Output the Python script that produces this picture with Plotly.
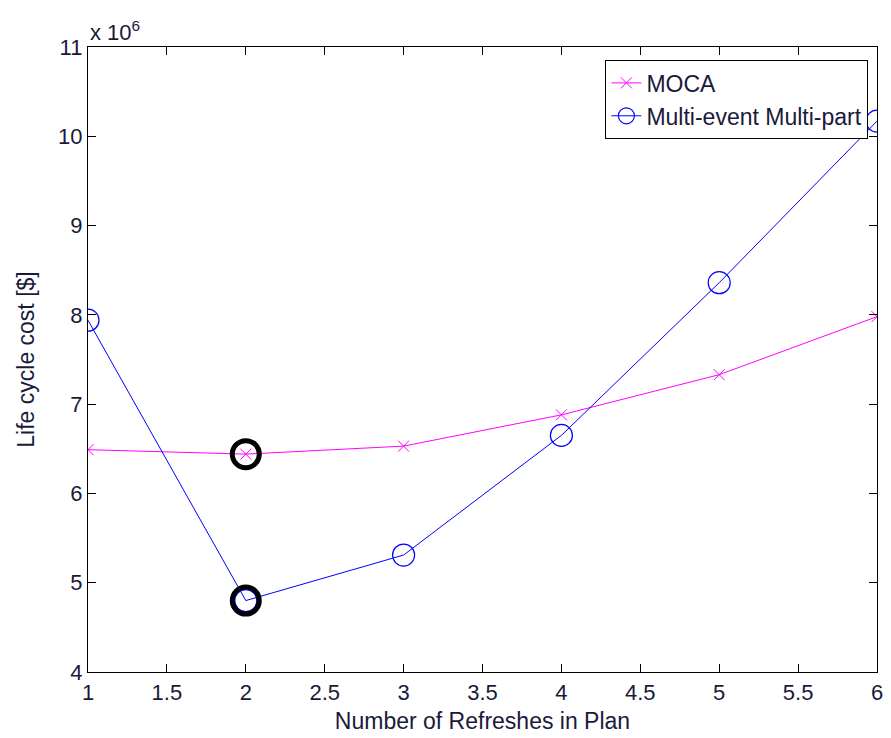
import plotly.graph_objects as go

# Life cycle cost (in units of 1e6 $) versus number of refreshes
refreshes = [1, 2, 3, 4, 5, 6]
moca_cost = [6.49, 6.44, 6.53, 6.88, 7.33, 7.98]
multi_cost = [7.94, 4.80, 5.31, 6.65, 8.36, 10.17]

# optimal plans (minimum cost) highlighted
best_x = [2, 2]
best_y = [6.44, 4.80]

x_ticks = [1, 1.5, 2, 2.5, 3, 3.5, 4, 4.5, 5, 5.5, 6]
x_tick_text = ["1", "1.5", "2", "2.5", "3", "3.5", "4", "4.5", "5", "5.5", "6"]
y_ticks = [4, 5, 6, 7, 8, 9, 10, 11]
y_tick_text = ["4", "5", "6", "7", "8", "9", "10", "11"]

font = "Arial, Liberation Sans, sans-serif"
text_color = "#1a1a3a"

fig = go.Figure()
fig.add_trace(go.Scatter(
    x=refreshes, y=moca_cost, name="MOCA", mode="lines+markers",
    line=dict(color="#ff00ff", width=1),
    marker=dict(symbol="x-thin-open", size=11, color="#ff00ff", line=dict(color="#ff00ff", width=1)),
))
fig.add_trace(go.Scatter(
    x=refreshes, y=multi_cost, name="Multi-event Multi-part", mode="lines+markers",
    line=dict(color="#0000ff", width=1),
    marker=dict(symbol="circle-open", size=22, color="#0000ff", line=dict(color="#0000ff", width=1.2)),
))
fig.add_trace(go.Scatter(
    x=best_x, y=best_y, mode="markers", showlegend=False,
    marker=dict(symbol="circle-open", size=27, color="black", line=dict(color="black", width=5)),
))

axis_common = dict(
    showgrid=False, zeroline=False, showline=True, linecolor="black", linewidth=1.3,
    mirror="allticks", ticks="inside", ticklen=8, tickwidth=1.3, tickcolor="black",
    tickfont=dict(family=font, size=22, color=text_color),
)

fig.update_xaxes(range=[1, 6], tickmode="array", tickvals=x_ticks, ticktext=x_tick_text,
                 title=dict(text="Number of Refreshes in Plan", font=dict(family=font, size=23, color=text_color), standoff=9),
                 **axis_common)
fig.update_yaxes(range=[4, 11], tickmode="array", tickvals=y_ticks, ticktext=y_tick_text,
                 title=dict(text="Life cycle cost [$]", font=dict(family=font, size=23, color=text_color), standoff=16),
                 **axis_common)

fig.add_annotation(
    xref="paper", yref="paper", x=0, y=1, xanchor="left", yanchor="bottom", yshift=0,
    text="x 10<sup>6</sup>", showarrow=False, font=dict(family=font, size=22, color=text_color),
)

fig.update_layout(
    width=891, height=738,
    margin=dict(l=88, r=8, t=47, b=66),
    plot_bgcolor="white", paper_bgcolor="white",
    legend=dict(
        x=0.9887, y=0.979, xanchor="right", yanchor="top",
        bgcolor="white", bordercolor="black", borderwidth=1.3,
        font=dict(family=font, size=23, color=text_color),
        tracegroupgap=0,
    ),
)

fig.write_html("out.html")
